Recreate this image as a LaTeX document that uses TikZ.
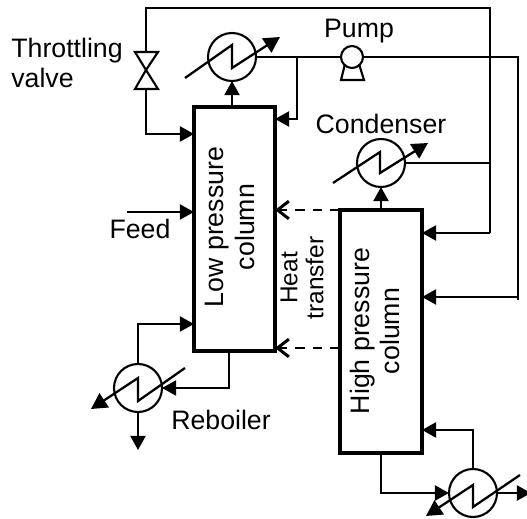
\documentclass[tikz,border=0pt]{standalone}
\usepackage{fontspec}
\setmainfont{Liberation Sans}
\usetikzlibrary{calc}
\usetikzlibrary{arrows.meta}

\begin{document}
\begin{tikzpicture}[x=0.02cm, y=-0.02cm]

    % Looks that repeat, sizes are for a picture 527 units wide
    \tikzset{
        label/.style={font=\fontsize{15.2}{17.2}\selectfont, inner sep=0},
        pipe/.style={line width=1.3pt},
        flow/.style={pipe, -{Triangle[length=8pt, width=8.5pt]}},
        exch/.style={circle, draw, line width=1.2pt, minimum size=0.96cm, inner sep=0, outer sep=0},
        column/.style={draw, line width=2.4pt, inner sep=0, outer sep=0, anchor=north west},
        heat/.style={line width=1.7pt, dash pattern=on 5.5pt off 4.5pt, -{Straight Barb[length=6.5pt, width=10pt]}}
    }

    \useasboundingbox (0, 0) rectangle (527, 519);

    % Columns, exchangers and pump
    \begin{scope}
        \node (lowcol) at (194, 107) [column, minimum width=1.62cm, minimum height=4.88cm] {};
        \node (highcol) at (340, 210) [column, minimum width=1.64cm, minimum height=4.86cm] {};

        \node (topexch) at (232, 57) [exch] {};
        \node (condexch) at (381, 163) [exch] {};
        \node (lowexch) at (138, 388) [exch] {};
        \node (highexch) at (473, 493) [exch] {};

        \node (pump) at (352, 57) [circle, draw, fill=white, line width=1.2pt, minimum size=0.44cm, inner sep=0, outer sep=0] {};
    \end{scope}

    % Corners and ends of the pipes
    \begin{scope}
        \coordinate (valvetop) at (146, 52);
        \coordinate (valvemid) at (146, 70);
        \coordinate (valvebot) at (146, 89);
        \coordinate (topleft) at (146, 8);
        \coordinate (topright) at (490, 8);
        \coordinate (midright) at (490, 163);
        \coordinate (highin) at (490, 233);
        \coordinate (farright) at (518, 57);
        \coordinate (farlow) at (518, 297);
        \coordinate (farend) at (518, 300);
        \coordinate (branch) at (297, 57);
        \coordinate (branchlow) at (297, 119);
        \coordinate (valvein) at (146, 134);
        \coordinate (feedin) at (127, 212);
        \coordinate (lowup) at (138, 324);
        \coordinate (lowout) at (229, 388);
        \coordinate (lowdown) at (138, 450);
        \coordinate (highdown) at (381, 493);
        \coordinate (highup) at (473, 430);
        \coordinate (highout) at (531, 493);
        \coordinate (heatlow) at (340, 348);
    \end{scope}

    % Pipes
    \begin{scope}
        \draw[pipe] (valvetop) -- (topleft) -- (topright) -- (highin);
        \draw[pipe] (topexch.east) -- (pump.west);
        \draw[pipe] (pump.east) -- (farright) -- (farend);
        \draw[pipe] (condexch.east) -- (midright);

        \draw[flow] (highin) -- (highin -| highcol.east);
        \draw[flow] (farlow) -- (farlow -| highcol.east);
        \draw[flow] (branch) -- (branchlow) -- (branchlow -| lowcol.east);
        \draw[flow] (valvebot) -- (valvein) -- (valvein -| lowcol.west);
        \draw[flow] (feedin) -- (feedin -| lowcol.west);

        \draw[flow] (topexch |- lowcol.north) -- (topexch.south);
        \draw[flow] (condexch |- highcol.north) -- (condexch.south);

        \draw[flow] (lowexch.north) -- (lowup) -- (lowup -| lowcol.west);
        \draw[flow] (lowout |- lowcol.south) -- (lowout) -- (lowexch.east);
        \draw[flow] (lowexch.south) -- (lowdown);

        \draw[flow] (highdown |- highcol.south) -- (highdown) -- (highexch.west);
        \draw[flow] (highexch.north) -- (highup) -- (highup -| highcol.east);
        \draw[flow] (highexch.east) -- (highout);
    \end{scope}

    % Zigzag through each exchanger, the arrow gives the slant
    \begin{scope}[line width=1.3pt]
        \draw[-{Triangle[length=9pt, width=9.5pt]}] ($(topexch)+(-47, 21)$) -- ($(topexch)+(0, -12)$) -- ($(topexch)+(0, 11)$) -- ($(topexch)+(48, -20)$);
        \draw[-{Triangle[length=9pt, width=9.5pt]}] ($(condexch)+(-48, 20)$) -- ($(condexch)+(-1, -11)$) -- ($(condexch)+(-1, 10)$) -- ($(condexch)+(47, -20)$);
        \draw[{Triangle[length=9pt, width=9.5pt]}-] ($(lowexch)+(-47, 21)$) -- ($(lowexch)+(0, -10)$) -- ($(lowexch)+(0, 13)$) -- ($(lowexch)+(47, -20)$);
        \draw[{Triangle[length=9pt, width=9.5pt]}-] ($(highexch)+(-47, 23)$) -- ($(highexch)+(0, -8)$) -- ($(highexch)+(0, 14)$) -- ($(highexch)+(47, -18)$);
    \end{scope}

    % Valve and the foot of the pump
    \begin{scope}[line width=1.2pt]
        \draw (valvemid) -- (135, 52) -- (158, 52) -- cycle;
        \draw (valvemid) -- (135, 89) -- (158, 89) -- cycle;
        \draw (345, 64) -- (341, 80) -- (364, 80) -- (359, 64);
    \end{scope}

    % Heat passed between the two columns
    \begin{scope}
        \draw[heat] (highcol.north west) -- (highcol.north west -| lowcol.east);
        \draw[heat] (heatlow) -- (heatlow -| lowcol.east);
    \end{scope}

    % Text
    \node (valvetext) at (11, 63) [label, anchor=west, align=left] {Throttling\\valve};
    \node (pumptext) at (359, 31) [label] {Pump};
    \node (condtext) at (381, 124) [label] {Condenser};
    \node (feedtext) at (140, 229) [label] {Feed};
    \node (reboiltext) at (221, 420) [label] {Reboiler};
    \node (lowtext) at (230, 227) [label, rotate=90, align=center] {Low pressure\\column};
    \node (hightext) at (375, 331) [label, rotate=90, align=center] {High pressure\\column};
    \node (heattext) at (302, 278) [label, font=\fontsize{13.9}{14.8}\selectfont, rotate=90, align=center] {Heat\\transfer};

\end{tikzpicture}
\end{document}
